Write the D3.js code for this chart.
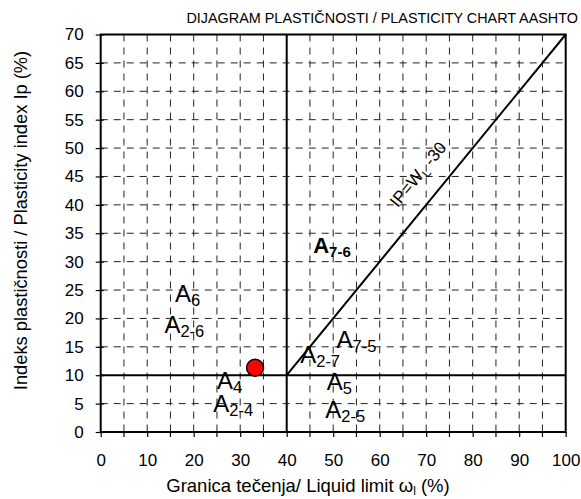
<!DOCTYPE html>
<html>
<head>
<meta charset="utf-8">
<script src="https://cdn.jsdelivr.net/npm/d3@7"></script>
<style>
  body { margin: 0; background: #fff; }
  svg { font-family: "Liberation Sans", Arial, sans-serif; }
</style>
</head>
<body>
<div id="chart"></div>
<script>
const title = 'DIJAGRAM PLASTIČNOSTI / PLASTICITY CHART AASHTO';
const xTickValues = [0, 10, 20, 30, 40, 50, 60, 70, 80, 90, 100];
const yTickValues = [0, 5, 10, 15, 20, 25, 30, 35, 40, 45, 50, 55, 60, 65, 70];
const gridX = [5, 10, 15, 20, 25, 30, 35, 45, 50, 55, 60, 65, 70, 75, 80, 85, 90, 95];
const gridY = [5, 15, 20, 25, 30, 35, 40, 45, 50, 55, 60, 65];

// boundary lines in data units (liquid limit, plasticity index)
const boundaries = [
  { x1: 40, y1: 0, x2: 40, y2: 70 },
  { x1: 0, y1: 10, x2: 100, y2: 10 },
  { x1: 40, y1: 10, x2: 100, y2: 70 }
];

// zone labels
const zoneLabels = [
  { main: 'A', sub: '6', x: 16, y: 22.9, bold: false },
  { main: 'A', sub: '2-6', x: 13.7, y: 17.4, bold: false },
  { main: 'A', sub: '4', x: 25, y: 7.6, bold: false },
  { main: 'A', sub: '2-4', x: 24.2, y: 3.6, bold: false },
  { main: 'A', sub: '2-7', x: 42.9, y: 12.1, bold: false },
  { main: 'A', sub: '7-5', x: 50.7, y: 14.8, bold: false },
  { main: 'A', sub: '5', x: 48.6, y: 7.4, bold: false },
  { main: 'A', sub: '2-5', x: 48.3, y: 2.5, bold: false },
  { main: 'A', sub: '7-6', x: 45.7, y: 31.5, bold: true }
];

const samples = [{ ll: 33.2, pi: 11.3 }];

const margin = { top: 34.5, right: 15.3, bottom: 67, left: 100.7 };
const width = 581, height = 499;
const innerWidth = width - margin.left - margin.right;
const innerHeight = height - margin.top - margin.bottom;

const svg = d3.select('#chart').append('svg')
  .attr('width', width)
  .attr('height', height);

const xScale = d3.scaleLinear().domain([0, 100]).range([0, innerWidth]);
const yScale = d3.scaleLinear().domain([0, 70]).range([innerHeight, 0]);

const g = svg.append('g')
  .attr('transform', `translate(${margin.left},${margin.top})`);

// dashed grid
g.selectAll('.grid-x').data(gridX).enter().append('line')
  .attr('x1', d => xScale(d)).attr('x2', d => xScale(d))
  .attr('y1', 0).attr('y2', innerHeight)
  .attr('stroke', '#222').attr('stroke-width', 1)
  .attr('stroke-dasharray', '7,6');

g.selectAll('.grid-y').data(gridY).enter().append('line')
  .attr('y1', d => yScale(d)).attr('y2', d => yScale(d))
  .attr('x1', 0).attr('x2', innerWidth)
  .attr('stroke', '#222').attr('stroke-width', 1)
  .attr('stroke-dasharray', '7,6');

// axes
const xAxis = d3.axisBottom(xScale)
  .tickValues(xTickValues)
  .tickSize(5)
  .tickPadding(17)
  .tickFormat(d3.format('d'));

const yAxis = d3.axisLeft(yScale)
  .tickValues(yTickValues)
  .tickSize(5)
  .tickPadding(12)
  .tickFormat(d3.format('d'));

const xAxisG = g.append('g')
  .attr('transform', `translate(0,${innerHeight})`)
  .call(xAxis);

const yAxisG = g.append('g').call(yAxis);

[xAxisG, yAxisG].forEach(a => {
  a.select('.domain').remove();
  a.selectAll('text').attr('font-size', 17).attr('fill', '#000')
    .attr('font-family', '"Liberation Sans", Arial, sans-serif');
  a.selectAll('line').attr('stroke', '#000').attr('stroke-width', 1.2);
});
// minor ticks on x
g.selectAll('.xminor').data([5, 15, 25, 35, 45, 55, 65, 75, 85, 95]).enter().append('line')
  .attr('x1', d => xScale(d)).attr('x2', d => xScale(d))
  .attr('y1', innerHeight).attr('y2', innerHeight + 5)
  .attr('stroke', '#000').attr('stroke-width', 1.2);
// y ticks cross the axis a bit
yAxisG.selectAll('.tick line').attr('x2', -5).attr('x1', 3);

// frame
g.append('rect')
  .attr('x', 0).attr('y', 0)
  .attr('width', innerWidth).attr('height', innerHeight)
  .attr('fill', 'none').attr('stroke', '#000').attr('stroke-width', 2);

// boundary lines
g.selectAll('.boundary').data(boundaries).enter().append('line')
  .attr('x1', d => xScale(d.x1)).attr('y1', d => yScale(d.y1))
  .attr('x2', d => xScale(d.x2)).attr('y2', d => yScale(d.y2))
  .attr('stroke', '#000').attr('stroke-width', 2);

// zone labels
zoneLabels.forEach(d => {
  const t = g.append('text')
    .attr('x', xScale(d.x)).attr('y', yScale(d.y))
    .attr('font-size', d.bold ? 22 : 24)
    .attr('font-weight', d.bold ? 'bold' : 'normal')
    .attr('fill', '#000');
  t.append('tspan').text(d.main);
  t.append('tspan').attr('font-size', d.bold ? 15 : 16.5).attr('dy', 4).text(d.sub);
});

// line label IP = WL - 30
const b = boundaries[2];
const angle = Math.atan2(yScale(b.y2) - yScale(b.y1), xScale(b.x2) - xScale(b.x1)) * 180 / Math.PI;
const lx = xScale(63.9), ly = yScale(39.4);
const lineLabel = g.append('text')
  .attr('transform', `translate(${lx},${ly}) rotate(${angle})`)
  .attr('font-size', 17)
  .attr('fill', '#000');
lineLabel.append('tspan').text('IP=W');
lineLabel.append('tspan').attr('font-size', 12).attr('dy', 4).text('L');
lineLabel.append('tspan').attr('dy', -4).text(' -30');

// sample point
g.selectAll('.sample').data(samples).enter().append('circle')
  .attr('cx', d => xScale(d.ll)).attr('cy', d => yScale(d.pi))
  .attr('r', 8.5)
  .attr('fill', '#ff0000')
  .attr('stroke', '#000').attr('stroke-width', 1.5);

// title
svg.append('text')
  .attr('x', 578).attr('y', 23)
  .attr('text-anchor', 'end')
  .attr('font-size', 14.4)
  .attr('fill', '#000')
  .text(title);

// x label
const xl = svg.append('text')
  .attr('x', 308).attr('y', 492)
  .attr('text-anchor', 'middle')
  .attr('font-size', 18.5)
  .attr('fill', '#000');
xl.append('tspan').text('Granica tečenja/ Liquid limit ω');
xl.append('tspan').attr('font-size', 12).attr('dy', 3).text('l');
xl.append('tspan').attr('dy', -3).text('  (%)');

// y label
svg.append('text')
  .attr('transform', `translate(27,${220.5}) rotate(-90)`)
  .attr('text-anchor', 'middle')
  .attr('font-size', 18.3)
  .attr('fill', '#000')
  .text('Indeks plastičnosti / Plasticity index Ip (%)');
</script>
</body>
</html>
